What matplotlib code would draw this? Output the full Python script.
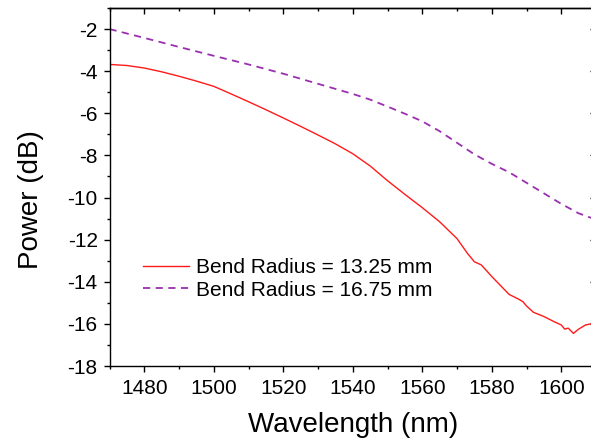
import matplotlib
matplotlib.use("Agg")
import matplotlib.pyplot as plt
from matplotlib.ticker import MultipleLocator

plt.rcParams['font.family'] = ['Liberation Sans', 'DejaVu Sans']
plt.rcParams['axes.unicode_minus'] = False

# Bend radius = 13.25 mm
red_wl = [1470, 1472, 1475, 1480, 1485, 1490, 1495, 1500, 1505, 1510, 1515,
          1520, 1525, 1530, 1535, 1540, 1545, 1550, 1555, 1560, 1565, 1570,
          1573, 1575, 1577, 1580, 1585, 1588, 1589, 1590, 1592, 1595, 1598,
          1600, 1601, 1602, 1603.5, 1605, 1607, 1610]
red_db = [-3.68, -3.70, -3.73, -3.85, -4.03, -4.24, -4.47, -4.72, -5.08, -5.45, -5.83,
          -6.22, -6.62, -7.03, -7.45, -7.92, -8.50, -9.20, -9.85, -10.48, -11.15, -11.95,
          -12.65, -13.05, -13.20, -13.75, -14.60, -14.85, -14.95, -15.15, -15.45, -15.65, -15.90,
          -16.05, -16.25, -16.20, -16.45, -16.25, -16.05, -15.95]

# Bend radius = 16.75 mm
pur_wl = [1470, 1480, 1490, 1500, 1510, 1520, 1530, 1540, 1545, 1550, 1555,
          1560, 1565, 1570, 1575, 1580, 1585, 1590, 1595, 1600, 1605, 1610]
pur_db = [-2.00, -2.42, -2.85, -3.27, -3.68, -4.12, -4.60, -5.08, -5.35, -5.68, -6.02,
          -6.38, -6.85, -7.40, -7.95, -8.40, -8.80, -9.30, -9.80, -10.30, -10.75, -11.05]

labels = ["Bend Radius = 13.25 mm", "Bend Radius = 16.75 mm"]

fig = plt.figure(figsize=(5.91, 4.45), dpi=100)
ax = fig.add_axes([109.5 / 591, 79 / 445, 486.5 / 591, 358 / 445])

ax.plot(red_wl, red_db, color='#ff1a1a', lw=1.0, label=labels[0])
ax.plot(pur_wl, pur_db, color='#9a2fb0', lw=1.3, linestyle=(0, (4, 3)), label=labels[1])

ax.set_xlim(1470, 1610)
ax.set_ylim(-18, -1)
ax.xaxis.set_major_locator(MultipleLocator(20))
ax.xaxis.set_minor_locator(MultipleLocator(10))
ax.yaxis.set_major_locator(MultipleLocator(2))
ax.yaxis.set_minor_locator(MultipleLocator(1))
ax.tick_params(which='major', direction='out', length=4.5, width=1.0, labelsize=15, pad=5)
ax.tick_params(which='minor', direction='out', length=2.5, width=1.0)
ax.tick_params(axis='y', which='major', pad=4)

# mirrored ticks pointing inward on top and right
top = ax.secondary_xaxis('top')
top.xaxis.set_major_locator(MultipleLocator(20))
top.xaxis.set_minor_locator(MultipleLocator(10))
top.tick_params(which='major', direction='in', length=4.5, width=1.0, labeltop=False)
top.tick_params(which='minor', direction='in', length=2.5, width=1.0)
right = ax.secondary_yaxis('right')
right.yaxis.set_major_locator(MultipleLocator(2))
right.yaxis.set_minor_locator(MultipleLocator(1))
right.tick_params(which='major', direction='in', length=4.5, width=1.0, labelright=False)
right.tick_params(which='minor', direction='in', length=2.5, width=1.0)

for a in (ax, top, right):
    for s in a.spines.values():
        s.set_linewidth(1.0)

ax.set_xlabel("Wavelength (nm)", fontsize=20, labelpad=10)
ax.set_ylabel("Power (dB)", fontsize=20)
ax.yaxis.set_label_coords(-0.135, 0.465)

ax.legend(loc='center left', bbox_to_anchor=(0.068, 0.243), frameon=False,
          fontsize=15, handlelength=2.25, handletextpad=0.32, labelspacing=0.15,
          borderpad=0, borderaxespad=0)

fig.savefig("out.png", dpi=100)
